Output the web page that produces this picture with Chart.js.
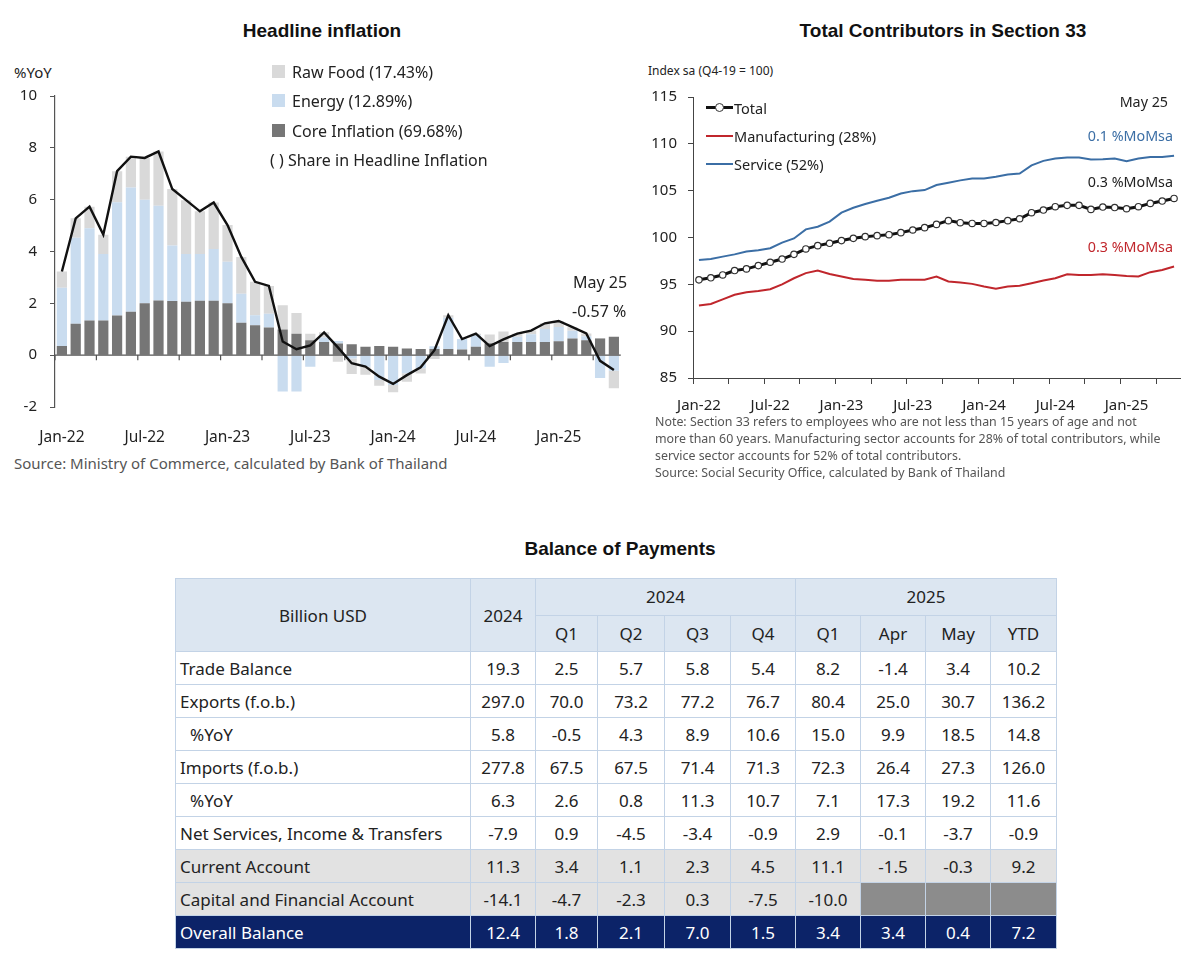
<!DOCTYPE html>
<html>
<head>
<meta charset="utf-8">
<script src="https://cdn.jsdelivr.net/npm/chart.js@4.4.0/dist/chart.umd.min.js"></script>
<style>
body { margin: 0; background: #fff; font-family: "Noto Sans", sans-serif; color: #222; }
#page { position: relative; width: 1200px; height: 966px; overflow: hidden; }
.t { position: absolute; white-space: nowrap; line-height: 1; transform: translateY(-50%); }
.title { font-family: "Liberation Sans", Arial, sans-serif; font-weight: bold; font-size: 19px; color: #111; transform: translate(-50%, -50%); }
.r { transform: translate(-100%, -50%); }
.sq { position: absolute; width: 13px; height: 13px; }
.ln { position: absolute; height: 2px; }
.box { position: absolute; }
table { position: absolute; left: 175px; top: 578px; border-collapse: collapse; font-size: 17px; table-layout: fixed; }
td { border: 1px solid #c3d3e6; text-align: center; padding: 0; height: 32px; white-space: nowrap; }
td.lab { text-align: left; padding-left: 4px; }
td.ind { padding-left: 14px; }
tr.hd td { background: #dce6f1; }
tr.gr td { background: #e2e2e2; }
td.dk { background: #8c8c8c !important; }
tr.ob td { background: #0c2368; color: #fff; }
</style>
</head>
<body>
<div id="page">
  <div class="t title" style="left:322px;top:30px;">Headline inflation</div>
  <div class="t" style="left:14px;top:72px;font-size:15px;">%YoY</div>
  <div class="box" style="left:0;top:74px;width:635px;height:378px;"><canvas id="infl"></canvas></div>

  <div class="sq" style="left:272px;top:65px;background:#d9d9d9;"></div>
  <div class="t" style="left:292px;top:72px;font-size:16px;">Raw Food (17.43%)</div>
  <div class="sq" style="left:272px;top:94px;background:#c9dcef;"></div>
  <div class="t" style="left:292px;top:101px;font-size:16px;">Energy (12.89%)</div>
  <div class="sq" style="left:272px;top:124px;background:#767676;"></div>
  <div class="t" style="left:292px;top:131px;font-size:16px;">Core Inflation (69.68%)</div>
  <div class="t" style="left:270px;top:160px;font-size:16px;">( ) Share in Headline Inflation</div>

  <div class="t" style="left:573px;top:282px;font-size:16px;">May 25</div>
  <div class="t" style="left:572px;top:311px;font-size:16px;">-0.57 %</div>
  <div class="t" style="left:14px;top:463px;font-size:15px;color:#555;">Source: Ministry of Commerce, calculated by Bank of Thailand</div>

  <div class="t title" style="left:943px;top:30px;">Total Contributors in Section 33</div>
  <div class="t" style="left:648px;top:71px;font-size:12px;">Index sa (Q4-19 = 100)</div>
  <div class="box" style="left:640px;top:77px;width:560px;height:341px;"><canvas id="ssf"></canvas></div>

  <div class="ln" style="left:706px;top:106px;width:27px;height:3px;background:#111;"></div>
  <div class="box" style="left:715px;top:103px;width:7px;height:7px;border:1px solid #333;border-radius:50%;background:#fff;"></div>
  <div class="t" style="left:734px;top:108px;font-size:14.5px;">Total</div>
  <div class="ln" style="left:706px;top:135px;width:27px;background:#c0262c;"></div>
  <div class="t" style="left:734px;top:136px;font-size:14.5px;">Manufacturing (28%)</div>
  <div class="ln" style="left:706px;top:163px;width:27px;background:#3b6ea5;"></div>
  <div class="t" style="left:734px;top:164px;font-size:14.5px;">Service (52%)</div>

  <div class="t r" style="left:1168px;top:102px;font-size:14.3px;">May 25</div>
  <div class="t r" style="left:1173px;top:136px;font-size:14.3px;color:#3b6ea5;">0.1 %MoMsa</div>
  <div class="t r" style="left:1173px;top:182px;font-size:14.3px;">0.3 %MoMsa</div>
  <div class="t r" style="left:1173px;top:247px;font-size:14.3px;color:#c0262c;">0.3 %MoMsa</div>

  <div class="t" style="left:655px;top:422px;font-size:12.4px;color:#555;">Note: Section 33 refers to employees who are not less than 15 years of age and not</div>
  <div class="t" style="left:655px;top:439px;font-size:12.4px;color:#555;">more than 60 years. Manufacturing sector accounts for 28% of total contributors, while</div>
  <div class="t" style="left:655px;top:456px;font-size:12.4px;color:#555;">service sector accounts for 52% of total contributors.</div>
  <div class="t" style="left:655px;top:473px;font-size:12.4px;color:#555;">Source: Social Security Office, calculated by Bank of Thailand</div>

  <div class="t title" style="left:620px;top:548px;">Balance of Payments</div>
  <table id="bop"></table>
</div>

<script>
// months Jan-22 .. May-25
var months = ['Jan-22','Feb-22','Mar-22','Apr-22','May-22','Jun-22','Jul-22','Aug-22','Sep-22','Oct-22','Nov-22','Dec-22',
  'Jan-23','Feb-23','Mar-23','Apr-23','May-23','Jun-23','Jul-23','Aug-23','Sep-23','Oct-23','Nov-23','Dec-23',
  'Jan-24','Feb-24','Mar-24','Apr-24','May-24','Jun-24','Jul-24','Aug-24','Sep-24','Oct-24','Nov-24','Dec-24',
  'Jan-25','Feb-25','Mar-25','Apr-25','May-25'];

// headline inflation and contributions (%YoY)
var headline = [3.23,5.28,5.73,4.65,7.10,7.66,7.61,7.86,6.41,5.98,5.55,5.89,
  5.02,3.79,2.83,2.67,0.53,0.23,0.38,0.88,0.30,-0.31,-0.44,-0.83,
  -1.11,-0.77,-0.47,0.19,1.54,0.62,0.83,0.35,0.61,0.83,0.95,1.23,
  1.32,1.08,0.84,-0.22,-0.57];
var coreContrib = [0.35,1.21,1.34,1.34,1.53,1.68,2.00,2.11,2.09,2.06,2.10,2.10,
  2.00,1.25,1.15,1.07,0.99,0.83,0.58,0.51,0.45,0.42,0.32,0.35,
  0.32,0.26,0.24,0.24,0.24,0.22,0.32,0.46,0.51,0.51,0.51,0.51,
  0.54,0.64,0.58,0.64,0.71];
var energyContrib = [2.25,3.32,3.56,2.56,4.37,4.79,4.00,3.66,2.14,1.84,1.80,2.00,
  1.60,1.12,0.39,0.53,-1.40,-1.40,-0.45,0.17,0.10,-0.13,-0.45,-0.96,
  -1.15,-0.70,-0.50,0.10,1.20,0.40,0.45,-0.45,-0.30,0.20,0.30,0.50,
  0.55,0.30,0.15,-0.88,-0.60];
var foodContrib = [0.63,0.75,0.83,0.75,1.20,1.19,1.61,2.09,2.18,2.08,1.65,1.79,
  1.42,1.42,1.29,1.07,0.94,0.80,0.25,0.20,-0.25,-0.60,-0.31,-0.22,
  -0.28,-0.33,-0.21,-0.15,0.10,0.00,0.06,0.34,0.40,0.12,0.14,0.22,
  0.23,0.14,0.11,0.02,-0.68];

// section 33 contributors, index sa (Q4-19 = 100)
var total = [95.48,95.70,96.00,96.47,96.65,97.00,97.36,97.70,98.20,98.78,99.13,99.38,
  99.67,99.91,100.09,100.20,100.30,100.52,100.80,101.05,101.40,101.80,101.58,101.50,
  101.50,101.60,101.80,102.00,102.65,102.93,103.29,103.43,103.43,103.00,103.25,103.20,
  103.07,103.29,103.64,103.89,104.17];
var manufacturing = [92.74,92.90,93.40,93.88,94.16,94.30,94.48,95.00,95.65,96.20,96.47,96.10,
  95.83,95.58,95.48,95.37,95.37,95.48,95.48,95.48,95.83,95.30,95.20,95.05,
  94.77,94.52,94.77,94.84,95.12,95.40,95.65,96.08,96.00,96.00,96.08,96.00,
  95.90,95.83,96.30,96.54,96.90];
var service = [97.60,97.70,97.96,98.20,98.50,98.63,98.85,99.45,99.90,100.87,101.15,101.70,
  102.65,103.18,103.57,103.92,104.24,104.70,104.95,105.06,105.60,105.84,106.10,106.30,
  106.30,106.48,106.73,106.83,107.70,108.18,108.43,108.54,108.54,108.33,108.36,108.43,
  108.15,108.43,108.60,108.60,108.72];

// balance of payments table
var bopCols = ['2024','Q1','Q2','Q3','Q4','Q1','Apr','May','YTD'];
var bopRows = ['Trade Balance','Exports (f.o.b.)','%YoY','Imports (f.o.b.)','%YoY',
  'Net Services, Income & Transfers','Current Account','Capital and Financial Account','Overall Balance'];
var bopValues = [
  ['19.3','2.5','5.7','5.8','5.4','8.2','-1.4','3.4','10.2'],
  ['297.0','70.0','73.2','77.2','76.7','80.4','25.0','30.7','136.2'],
  ['5.8','-0.5','4.3','8.9','10.6','15.0','9.9','18.5','14.8'],
  ['277.8','67.5','67.5','71.4','71.3','72.3','26.4','27.3','126.0'],
  ['6.3','2.6','0.8','11.3','10.7','7.1','17.3','19.2','11.6'],
  ['-7.9','0.9','-4.5','-3.4','-0.9','2.9','-0.1','-3.7','-0.9'],
  ['11.3','3.4','1.1','2.3','4.5','11.1','-1.5','-0.3','9.2'],
  ['-14.1','-4.7','-2.3','0.3','-7.5','-10.0',null,null,null],
  ['12.4','1.8','2.1','7.0','1.5','3.4','3.4','0.4','7.2']
];

Chart.defaults.font.family = '"Noto Sans", sans-serif';
Chart.defaults.color = '#222';
Chart.defaults.animation = false;

// zero line with quarter ticks, drawn under the headline line
var zeroLine = {
  id: 'zeroLine',
  beforeDatasetDraw: function(chart, args) {
    if (args.index !== 0) return;
    var x = chart.scales.x, y = chart.scales.y, ctx = chart.ctx;
    var y0 = y.getPixelForValue(0);
    var half = (x.getPixelForValue(1) - x.getPixelForValue(0)) / 2;
    ctx.save();
    ctx.strokeStyle = '#555';
    ctx.lineWidth = 1.2;
    ctx.beginPath();
    ctx.moveTo(x.left, y0);
    ctx.lineTo(x.right, y0);
    for (var i = 0; i < months.length; i += 3) {
      var px = x.getPixelForValue(i) - half;
      ctx.moveTo(px, y0);
      ctx.lineTo(px, y0 + 5);
    }
    ctx.stroke();
    ctx.restore();
  }
};

new Chart(document.getElementById('infl'), {
  type: 'bar',
  data: {
    labels: months,
    datasets: [
      { type: 'line', label: 'Headline', data: headline, stack: 'line', borderColor: '#111', borderWidth: 2.4, pointRadius: 0, tension: 0 },
      { label: 'Core Inflation', data: coreContrib, backgroundColor: '#767676', barPercentage: 0.74, categoryPercentage: 1 },
      { label: 'Energy', data: energyContrib, backgroundColor: '#c9dcef', barPercentage: 0.74, categoryPercentage: 1 },
      { label: 'Raw Food', data: foodContrib, backgroundColor: '#d9d9d9', barPercentage: 0.74, categoryPercentage: 1 }
    ]
  },
  options: {
    responsive: true,
    maintainAspectRatio: false,
    layout: { padding: { top: 0, right: 10 } },
    plugins: { legend: { display: false }, tooltip: { enabled: false } },
    scales: {
      x: {
        stacked: true,
        grid: { display: false, drawTicks: false },
        border: { display: false },
        ticks: {
          autoSkip: false, maxRotation: 0, padding: 21, font: { size: 15.5 },
          callback: function(v, i) { return i % 6 === 0 ? months[i] : ''; }
        },
        afterFit: function(s) { s.height = 45; }
      },
      y: {
        stacked: true,
        min: -2, max: 10,
        ticks: { stepSize: 2, padding: 13, font: { size: 15 } },
        grid: { drawOnChartArea: false, tickLength: 5, color: '#555' },
        border: { display: true, color: '#555', width: 1.2 },
        afterFit: function(s) { s.width = 55; }
      }
    }
  },
  plugins: [zeroLine]
});

new Chart(document.getElementById('ssf'), {
  type: 'line',
  data: {
    labels: months,
    datasets: [
      { label: 'Total', data: total, borderColor: '#111', borderWidth: 3, pointRadius: 3.2, pointBackgroundColor: '#fff', pointBorderColor: '#333', pointBorderWidth: 1.2, tension: 0 },
      { label: 'Manufacturing (28%)', data: manufacturing, borderColor: '#c0262c', borderWidth: 2, pointRadius: 0, tension: 0 },
      { label: 'Service (52%)', data: service, borderColor: '#3b6ea5', borderWidth: 2, pointRadius: 0, tension: 0 }
    ]
  },
  options: {
    responsive: true,
    maintainAspectRatio: false,
    layout: { padding: { top: 0, right: 20 } },
    plugins: { legend: { display: false }, tooltip: { enabled: false } },
    scales: {
      x: {
        offset: true,
        grid: {
          offset: true, drawOnChartArea: false, drawTicks: true, tickLength: 6,
          tickColor: function(c) { return c.index % 3 === 0 ? '#444' : 'rgba(0,0,0,0)'; }
        },
        border: { display: true, color: '#444' },
        ticks: {
          autoSkip: false, maxRotation: 0, padding: 13, font: { size: 15 },
          callback: function(v, i) { return i % 6 === 0 ? months[i] : ''; }
        },
        afterFit: function(s) { s.height = 40; }
      },
      y: {
        min: 85, max: 115,
        ticks: { stepSize: 5, padding: 11, font: { size: 15 } },
        grid: { drawOnChartArea: false, tickLength: 5, color: '#444' },
        border: { display: true, color: '#444' },
        afterFit: function(s) { s.width = 53; }
      }
    }
  }
});

// table
var widths = [295, 65, 62, 67, 66, 65, 65, 65, 65, 66];
var tb = document.getElementById('bop');
var cg = '<colgroup>' + widths.map(function(w) { return '<col style="width:' + w + 'px">'; }).join('') + '</colgroup>';
var html = cg;
html += '<tr class="hd"><td rowspan="2" style="height:72px">Billion USD</td><td rowspan="2">' + bopCols[0] + '</td>' +
  '<td colspan="4" style="height:35px">2024</td><td colspan="4">2025</td></tr>';
html += '<tr class="hd">' + bopCols.slice(1).map(function(c) { return '<td style="height:35px">' + c + '</td>'; }).join('') + '</tr>';
bopRows.forEach(function(name, r) {
  var cls = r === 6 || r === 7 ? 'gr' : (r === 8 ? 'ob' : '');
  var lc = name === '%YoY' ? 'lab ind' : 'lab';
  html += '<tr class="' + cls + '"><td class="' + lc + '">' + name.replace('&', '&amp;') + '</td>';
  bopValues[r].forEach(function(v) {
    html += v === null ? '<td class="dk"></td>' : '<td>' + v + '</td>';
  });
  html += '</tr>';
});
tb.innerHTML = html;
</script>
</body>
</html>
